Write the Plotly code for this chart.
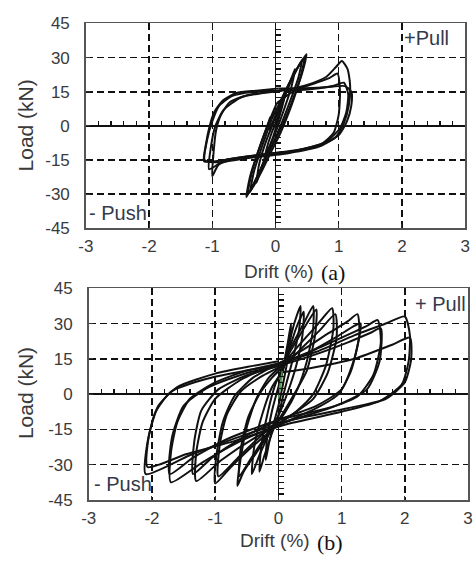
import plotly.graph_objects as go

W, H = 476, 565

# ---------------- data: tick labels ----------------
x_tick_vals = [-3, -2, -1, 0, 1, 2, 3]
x_tick_text = ["-3", "-2", "-1", "0", "1", "2", "3"]
y_tick_vals = [-45, -30, -15, 0, 15, 30, 45]
y_tick_text = ["-45", "-30", "-15", "0", "15", "30", "45"]

# ---------------- data: panel (a) load-drift cycles ----------------
a_c1_drift = [0.00, 0.06, 0.12, 0.16, 0.13, 0.05, -0.04, -0.12, -0.18, -0.14, -0.06, 0.00]
a_c1_load = [0.0, 6.0, 12.0, 16.0, 11.0, 3.0, -5.0, -11.0, -16.0, -10.0, -3.0, 1.0]
a_c2_drift = [0.00, 0.10, 0.20, 0.28, 0.31, 0.25, 0.12, 0.00, -0.12, -0.22, -0.30, -0.26, -0.14, -0.02]
a_c2_load = [1.0, 9.0, 17.0, 23.0, 25.0, 17.0, 6.0, -3.0, -11.0, -18.0, -25.0, -17.0, -6.0, 2.0]
a_c3_drift = [-0.02, 0.10, 0.22, 0.34, 0.42, 0.36, 0.22, 0.08, -0.06, -0.20, -0.32, -0.40, -0.34, -0.20, -0.06]
a_c3_load = [2.0, 10.0, 18.0, 25.0, 29.0, 21.0, 10.0, 0.0, -9.0, -17.0, -24.0, -29.0, -20.0, -8.0, 3.0]
a_c4_drift = [-0.06, 0.08, 0.22, 0.36, 0.49, 0.42, 0.28, 0.12, -0.04, -0.18, -0.32, -0.46, -0.40, -0.26, -0.10, 0.02]
a_c4_load = [3.0, 11.0, 19.0, 26.0, 31.5, 23.0, 12.0, 1.0, -8.0, -16.0, -24.0, -31.3, -22.0, -10.0, 2.0, 10.0]
a_c4r_drift = [-0.10, 0.02, 0.14, 0.26, 0.38, 0.46, 0.38, 0.24, 0.08, -0.08, -0.22, -0.36, -0.44, -0.36, -0.22, -0.08]
a_c4r_load = [-2.0, 6.0, 14.0, 21.0, 27.0, 30.0, 20.0, 8.0, -3.0, -12.0, -20.0, -27.0, -30.0, -19.0, -7.0, 4.0]
a_c5_drift = [0.02, 0.30, 0.60, 0.85, 0.98, 1.02, 1.00, 0.92, 0.75, 0.45, 0.10, -0.30, -0.65, -0.90, -1.00,
              -0.98, -0.94, -0.86, -0.72, -0.45, -0.10, 0.20]
a_c5_load = [10.0, 15.5, 18.5, 21.0, 23.0, 15.0, 5.0, -3.0, -7.5, -10.0, -11.5, -13.0, -14.5, -17.0, -22.0,
             -12.0, -2.0, 5.0, 10.5, 13.5, 15.0, 16.0]
a_c6_drift = [0.20, 0.50, 0.80, 0.96, 1.05, 1.14, 1.18, 1.16, 1.08, 0.95, 0.70, 0.30, -0.20, -0.60, -0.95,
              -1.13, -1.10, -1.05, -0.97, -0.84, -0.62, -0.30, 0.05]
a_c6_load = [16.0, 18.0, 21.5, 26.0, 28.5, 25.0, 18.0, 9.0, 1.0, -5.0, -8.5, -11.0, -12.5, -14.0, -15.5,
             -15.5, -8.0, -1.0, 6.0, 11.0, 14.5, 15.5, 16.5]
a_c7_drift = [0.05, 0.40, 0.80, 1.10, 1.20, 1.20, 1.13, 1.00, 0.70, 0.20, -0.40, -0.90, -1.12, -1.08, -1.00,
              -0.90, -0.70, -0.35, 0.00]
a_c7_load = [16.5, 16.5, 17.0, 17.5, 15.0, 9.0, 2.0, -4.0, -9.0, -12.0, -14.0, -16.0, -15.0, -6.0, 2.0,
             8.5, 13.0, 15.0, 15.5]
a_c8_drift = [0.00, 0.50, 0.90, 1.08, 1.15, 1.12, 1.02, 0.80, 0.30, -0.30, -0.80, -1.05, -1.02, -0.95,
              -0.82, -0.55, -0.20, 0.10]
a_c8_load = [15.5, 16.0, 17.5, 19.0, 14.0, 6.0, -1.0, -7.0, -11.0, -13.0, -15.0, -19.0, -9.0, 0.0,
             7.0, 12.5, 14.5, 15.5]

# ---------------- data: panel (b) load-drift cycles ----------------
b_c1_drift = [0.00, 0.03, 0.06, 0.05, 0.02, 0.00]
b_c1_load = [0.0, 5.0, 10.0, 6.0, 1.0, -2.0]
b_c2_drift = [0.00, 0.08, 0.15, 0.20, 0.18, 0.10, 0.00, -0.08, -0.15, -0.20, -0.18, -0.10, 0.00]
b_c2_load = [0.0, 12.0, 22.0, 30.0, 20.0, 8.0, -5.0, -13.0, -21.0, -28.0, -19.0, -7.0, 3.0]
b_c3_drift = [0.00, 0.12, 0.25, 0.35, 0.33, 0.22, 0.10, 0.00, -0.12, -0.22, -0.30, -0.27, -0.17, -0.05, 0.05]
b_c3_load = [3.0, 16.0, 30.0, 37.5, 28.0, 14.0, 2.0, -9.0, -18.0, -26.0, -33.0, -22.0, -8.0, 4.0, 10.0]
b_c3r_drift = [0.05, 0.15, 0.28, 0.40, 0.38, 0.28, 0.15, 0.02, -0.15, -0.30, -0.42, -0.38, -0.26, -0.10, 0.05]
b_c3r_load = [8.0, 17.0, 28.0, 35.0, 25.0, 12.0, 1.0, -8.0, -17.0, -26.0, -34.0, -22.0, -9.0, 3.0, 9.0]
b_c4_drift = [0.05, 0.20, 0.40, 0.55, 0.55, 0.45, 0.30, 0.10, -0.10, -0.35, -0.55, -0.65, -0.60, -0.50,
              -0.35, -0.15, 0.05]
b_c4_load = [10.0, 20.0, 30.0, 37.5, 28.0, 14.0, 2.0, -8.0, -15.0, -25.0, -33.0, -39.0, -28.0, -14.0,
             -2.0, 7.0, 12.0]
b_c4r_drift = [0.05, 0.25, 0.45, 0.60, 0.58, 0.45, 0.25, 0.05, -0.20, -0.45, -0.62, -0.60, -0.48, -0.30, -0.10, 0.05]
b_c4r_load = [12.0, 21.0, 30.0, 36.0, 25.0, 10.0, 0.0, -9.0, -18.0, -28.0, -35.0, -24.0, -10.0, 0.0, 7.0, 11.0]
b_c5_drift = [0.05, 0.30, 0.60, 0.85, 0.87, 0.75, 0.55, 0.30, 0.00, -0.40, -0.75, -1.00, -0.98, -0.88,
              -0.70, -0.40, 0.00]
b_c5_load = [12.0, 20.0, 29.0, 36.5, 28.0, 12.0, 0.0, -7.0, -13.0, -22.0, -31.0, -38.0, -26.0, -12.0,
             -1.0, 7.0, 13.0]
b_c5r_drift = [0.05, 0.35, 0.65, 0.90, 0.92, 0.78, 0.55, 0.20, -0.20, -0.60, -0.95, -0.93, -0.82, -0.60, -0.30, 0.05]
b_c5r_load = [11.0, 19.0, 27.0, 34.0, 24.0, 9.0, -2.0, -9.0, -16.0, -26.0, -35.0, -22.0, -9.0, 1.0, 7.0, 12.0]
b_c6_drift = [0.00, 0.40, 0.80, 1.10, 1.25, 1.28, 1.15, 0.95, 0.60, 0.10, -0.40, -0.90, -1.30, -1.30,
              -1.20, -1.00, -0.60, -0.20, 0.00]
b_c6_load = [13.0, 19.0, 26.0, 31.0, 34.0, 25.0, 10.0, 0.0, -6.0, -12.0, -19.0, -28.0, -37.0, -25.0,
             -12.0, -2.0, 6.0, 11.0, 13.0]
b_c6r_drift = [0.00, 0.50, 0.90, 1.20, 1.30, 1.20, 1.00, 0.60, 0.00, -0.60, -1.05, -1.35, -1.33, -1.22,
               -0.95, -0.50, 0.00]
b_c6r_load = [12.0, 18.0, 24.0, 29.0, 30.0, 15.0, 2.0, -5.0, -11.0, -19.0, -27.0, -34.0, -20.0, -7.0,
              2.0, 8.0, 12.0]
b_c7_drift = [0.00, 0.50, 1.00, 1.40, 1.57, 1.62, 1.50, 1.25, 0.80, 0.10, -0.60, -1.20, -1.70, -1.70,
              -1.60, -1.40, -1.00, -0.50, 0.00]
b_c7_load = [13.0, 18.0, 24.0, 29.0, 31.5, 22.0, 8.0, -1.0, -6.0, -12.0, -20.0, -29.0, -37.5, -25.0,
             -12.0, -2.0, 5.0, 10.0, 13.0]
b_c7r_drift = [0.00, 0.60, 1.10, 1.45, 1.62, 1.60, 1.40, 0.90, 0.00, -0.80, -1.35, -1.72, -1.68, -1.50,
               -1.10, -0.50, 0.00]
b_c7r_load = [12.0, 17.0, 22.0, 26.0, 28.0, 14.0, 2.0, -5.0, -11.0, -19.0, -27.0, -34.0, -18.0, -5.0,
              3.0, 9.0, 12.0]
b_c8_drift = [0.00, 0.60, 1.20, 1.70, 2.00, 2.08, 2.06, 1.95, 1.60, 1.00, 0.10, -0.70, -1.45, -2.07,
              -2.05, -1.90, -1.60, -1.00, -0.40, 0.00]
b_c8_load = [13.0, 18.0, 25.0, 30.0, 33.0, 25.0, 14.0, 4.0, -3.0, -7.5, -13.0, -20.0, -25.5, -31.0,
             -18.0, -5.0, 3.0, 8.7, 12.0, 14.0]
b_c9_drift = [0.00, 0.50, 1.20, 1.80, 2.08, 2.10, 2.00, 1.70, 1.10, 0.20, -0.60, -1.40, -2.10, -2.08,
              -1.95, -1.70, -1.20, -0.50, 0.00]
b_c9_load = [9.0, 11.0, 15.0, 21.0, 24.0, 15.0, 5.0, -2.0, -6.0, -11.0, -18.0, -26.0, -34.0, -22.0,
             -8.0, 1.0, 6.0, 10.0, 12.0]

panel_a_cycles = [(a_c1_drift, a_c1_load), (a_c2_drift, a_c2_load), (a_c3_drift, a_c3_load),
                  (a_c4_drift, a_c4_load), (a_c4r_drift, a_c4r_load), (a_c5_drift, a_c5_load),
                  (a_c6_drift, a_c6_load), (a_c7_drift, a_c7_load), (a_c8_drift, a_c8_load)]
panel_b_cycles = [(b_c2_drift, b_c2_load), (b_c3_drift, b_c3_load), (b_c3r_drift, b_c3r_load),
                  (b_c4_drift, b_c4_load), (b_c4r_drift, b_c4r_load), (b_c5_drift, b_c5_load),
                  (b_c5r_drift, b_c5r_load), (b_c6_drift, b_c6_load), (b_c6r_drift, b_c6r_load),
                  (b_c7_drift, b_c7_load), (b_c7r_drift, b_c7r_load), (b_c8_drift, b_c8_load),
                  (b_c9_drift, b_c9_load)]

SANS = "Liberation Sans, Arial, sans-serif"
SERIF = "Liberation Serif, Times New Roman, serif"
LINE = dict(color="#111111", width=2.0, shape="spline", smoothing=0.6)

fig = go.Figure()
for d, l in panel_a_cycles:
    fig.add_trace(go.Scatter(x=d, y=l, mode="lines", line=LINE, xaxis="x", yaxis="y",
                             showlegend=False, hoverinfo="skip"))
for d, l in panel_b_cycles:
    fig.add_trace(go.Scatter(x=d, y=l, mode="lines", line=LINE, xaxis="x2", yaxis="y2",
                             showlegend=False, hoverinfo="skip"))
fig.add_trace(go.Scatter(x=b_c1_drift, y=b_c1_load, mode="lines",
                         line=dict(color="#55a055", width=1.2), xaxis="x2", yaxis="y2",
                         showlegend=False, hoverinfo="skip"))
# empty traces so the zero-line tick axes are drawn
for xa, ya in [("x3", "y"), ("x", "y3"), ("x4", "y2"), ("x2", "y4")]:
    fig.add_trace(go.Scatter(x=[None], y=[None], xaxis=xa, yaxis=ya, showlegend=False, hoverinfo="skip"))

# panel geometry (pixels)
ax_px = (80, 470, 15, 227)   # left, right, top, bottom
bx_px = (83, 473, 289, 508)

def xdom(p):
    return [p[0] / W, p[1] / W]

def ydom(p):
    return [1 - p[3] / H, 1 - p[2] / H]

tickfont = dict(family=SANS, size=17, color="#3a3a3a")

def main_x(p, anchor):
    return dict(domain=xdom(p), range=[-3, 3], anchor=anchor, tickmode="array",
                tickvals=x_tick_vals, ticktext=x_tick_text, tickfont=tickfont,
                showgrid=True, gridcolor="#111111", gridwidth=1.5, griddash="7px,4px",
                zeroline=True, zerolinecolor="#111111", zerolinewidth=1.8,
                showline=True, linecolor="#555555", linewidth=1.6, mirror=True,
                ticks="inside", ticklen=4, tickcolor="#333333", ticklabelstandoff=2,
                fixedrange=True)

def main_y(p, anchor):
    return dict(domain=ydom(p), range=[-45, 45], anchor=anchor, tickmode="array",
                tickvals=y_tick_vals, ticktext=y_tick_text, tickfont=tickfont,
                showgrid=True, gridcolor="#111111", gridwidth=1.5, griddash="7px,4px",
                zeroline=True, zerolinecolor="#111111", zerolinewidth=1.8,
                showline=True, linecolor="#555555", linewidth=1.6, mirror=True,
                ticks="inside", ticklen=4, tickcolor="#333333", ticklabelstandoff=11,
                fixedrange=True)

def zero_x(p, over):
    yd = ydom(p)
    return dict(overlaying=over, anchor="free", position=(yd[0] + yd[1]) / 2, domain=xdom(p),
                range=[-3, 3], side="bottom", tickmode="linear", tick0=0, dtick=0.2,
                ticks="inside", ticklen=5, tickwidth=1.3, tickcolor="#111111",
                showticklabels=False, showgrid=False, zeroline=False, showline=False, fixedrange=True)

def zero_y(p, over):
    xd = xdom(p)
    return dict(overlaying=over, anchor="free", position=(xd[0] + xd[1]) / 2, domain=ydom(p),
                range=[-45, 45], side="left", tickmode="linear", tick0=0, dtick=2.5,
                ticks="inside", ticklen=5, tickwidth=1.3, tickcolor="#111111",
                showticklabels=False, showgrid=False, zeroline=False, showline=False, fixedrange=True)

def ann(text, px, py, size=18, family=SANS, color="#3a3a3a", xanchor="center", angle=0):
    return dict(text=text, x=px / W, y=1 - py / H, xref="paper", yref="paper",
                xanchor=xanchor, yanchor="middle", showarrow=False, textangle=angle,
                font=dict(family=family, size=size, color=color))

annotations = [
    ann("Load (kN)", 18, 121, size=21, angle=-90),
    ann("Load (kN)", 18, 398, size=21, angle=-90),
    ann("Drift (%)", 317, 272, size=19, xanchor="right"),
    ann("(a)", 320, 273, size=22, family=SERIF, color="#111111", xanchor="left"),
    ann("Drift (%)", 313, 550, size=19, xanchor="right"),
    ann("(b)", 316, 552, size=22, family=SERIF, color="#111111", xanchor="left"),
    ann("+Pull", 405, 30, size=20, color="#333a4c", xanchor="left"),
    ann("- Push", 81, 211, size=20, color="#333a4c", xanchor="left"),
    ann("+ Pull", 416, 305, size=20, color="#333a4c", xanchor="left"),
    ann("- Push", 86, 492, size=20, color="#333a4c", xanchor="left"),
]

fig.update_layout(
    width=W, height=H, margin=dict(l=0, r=0, t=0, b=0),
    paper_bgcolor="white", plot_bgcolor="white", showlegend=False,
    xaxis=main_x(ax_px, "y"), yaxis=main_y(ax_px, "x"),
    xaxis2=main_x(bx_px, "y2"), yaxis2=main_y(bx_px, "x2"),
    xaxis3=zero_x(ax_px, "x"), yaxis3=zero_y(ax_px, "y"),
    xaxis4=zero_x(bx_px, "x2"), yaxis4=zero_y(bx_px, "y2"),
    annotations=annotations,
)

fig.write_html(
    "out.html",
    config={"displayModeBar": False, "staticPlot": True},
    post_script="document.body.style.margin='0';document.documentElement.style.overflow='hidden';",
)
